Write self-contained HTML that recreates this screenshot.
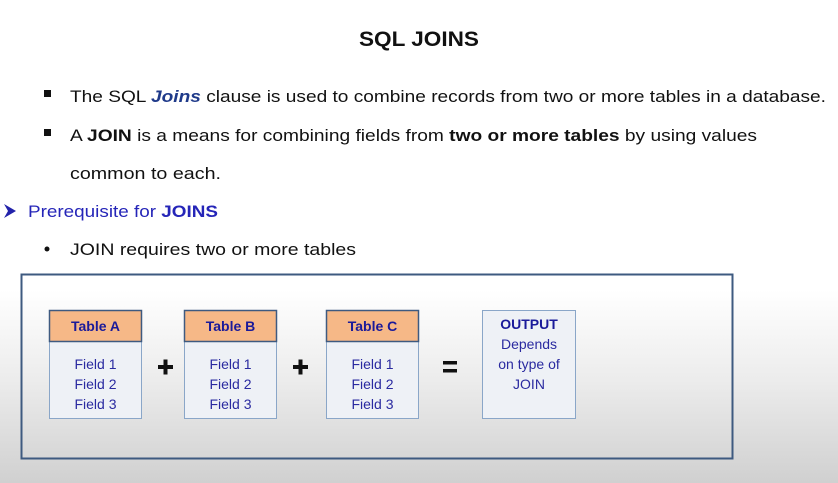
<!DOCTYPE html>
<html><head><meta charset="utf-8"><style>
body{margin:0;width:838px;height:483px;overflow:hidden;background:linear-gradient(to bottom,#fff 0px,#fff 290px,#ececec 380px,#d0d0d0 483px);font-family:"Liberation Sans",sans-serif;}
svg{position:absolute;left:0;top:0}
</style></head><body>
<svg width="838" height="483" xmlns="http://www.w3.org/2000/svg" font-family="Liberation Sans, sans-serif">
<text x="419" y="46" text-anchor="middle" font-size="21" font-weight="bold" fill="#111" textLength="120" lengthAdjust="spacingAndGlyphs">SQL JOINS</text>
<rect x="44" y="90" width="7" height="7" fill="#111"/>
<text x="70" y="102" font-size="17" fill="#111" textLength="756" lengthAdjust="spacingAndGlyphs">The SQL <tspan fill="#1f3a8a" font-weight="bold" font-style="italic">Joins</tspan> clause is used to combine records from two or more tables in a database.</text>
<rect x="44" y="129" width="7" height="7" fill="#111"/>
<text x="70" y="141" font-size="17" fill="#111" textLength="687" lengthAdjust="spacingAndGlyphs">A <tspan font-weight="bold">JOIN</tspan> is a means for combining fields from <tspan font-weight="bold">two or more tables</tspan> by using values</text>
<text x="70" y="179" font-size="17" fill="#111" textLength="151" lengthAdjust="spacingAndGlyphs">common to each.</text>
<path d="M4 204 L16 211 L4 218 L8 211 Z" fill="#2222aa"/>
<text x="28" y="217" font-size="17" fill="#2525b8" textLength="190" lengthAdjust="spacingAndGlyphs">Prerequisite for <tspan font-weight="bold">JOINS</tspan></text>
<circle cx="47" cy="249" r="2.5" fill="#111"/>
<text x="70" y="255" font-size="17" fill="#111" textLength="286" lengthAdjust="spacingAndGlyphs">JOIN requires two or more tables</text>
<rect x="21.5" y="274.5" width="711" height="184" fill="none" stroke="#3e5a80" stroke-width="2"/>
<g font-size="14" text-anchor="middle">
<g>
<rect x="49.5" y="341.5" width="92" height="77" fill="#eef1f6" stroke="#8aa6c8"/>
<rect x="49.5" y="310.5" width="92" height="31" fill="#f6b887" stroke="#3e5a80" stroke-width="1.5"/>
<text x="95.5" y="331" font-weight="bold" fill="#1a1a9a">Table A</text>
<text x="95.5" y="369" fill="#2a2aa0">Field 1</text><text x="95.5" y="389" fill="#2a2aa0">Field 2</text><text x="95.5" y="409" fill="#2a2aa0">Field 3</text>
</g>
<g>
<rect x="184.5" y="341.5" width="92" height="77" fill="#eef1f6" stroke="#8aa6c8"/>
<rect x="184.5" y="310.5" width="92" height="31" fill="#f6b887" stroke="#3e5a80" stroke-width="1.5"/>
<text x="230.5" y="331" font-weight="bold" fill="#1a1a9a">Table B</text>
<text x="230.5" y="369" fill="#2a2aa0">Field 1</text><text x="230.5" y="389" fill="#2a2aa0">Field 2</text><text x="230.5" y="409" fill="#2a2aa0">Field 3</text>
</g>
<g>
<rect x="326.5" y="341.5" width="92" height="77" fill="#eef1f6" stroke="#8aa6c8"/>
<rect x="326.5" y="310.5" width="92" height="31" fill="#f6b887" stroke="#3e5a80" stroke-width="1.5"/>
<text x="372.5" y="331" font-weight="bold" fill="#1a1a9a">Table C</text>
<text x="372.5" y="369" fill="#2a2aa0">Field 1</text><text x="372.5" y="389" fill="#2a2aa0">Field 2</text><text x="372.5" y="409" fill="#2a2aa0">Field 3</text>
</g>
<rect x="482.5" y="310.5" width="93" height="108" fill="#eef1f6" stroke="#8aa6c8"/>
<text x="529" y="329" font-weight="bold" fill="#1a1a9a">OUTPUT</text>
<text x="529" y="349" fill="#2a2aa0">Depends</text>
<text x="529" y="369" fill="#2a2aa0">on type of</text>
<text x="529" y="389" fill="#2a2aa0">JOIN</text>
</g>
<g fill="#111">
<rect x="158" y="365" width="15" height="4"/><rect x="163.5" y="359.5" width="4" height="15"/>
<rect x="293" y="365" width="15" height="4"/><rect x="298.5" y="359.5" width="4" height="15"/>
<rect x="443" y="361" width="14" height="3.5"/><rect x="443" y="369" width="14" height="3.5"/>
</g>
</svg>
</body></html>
